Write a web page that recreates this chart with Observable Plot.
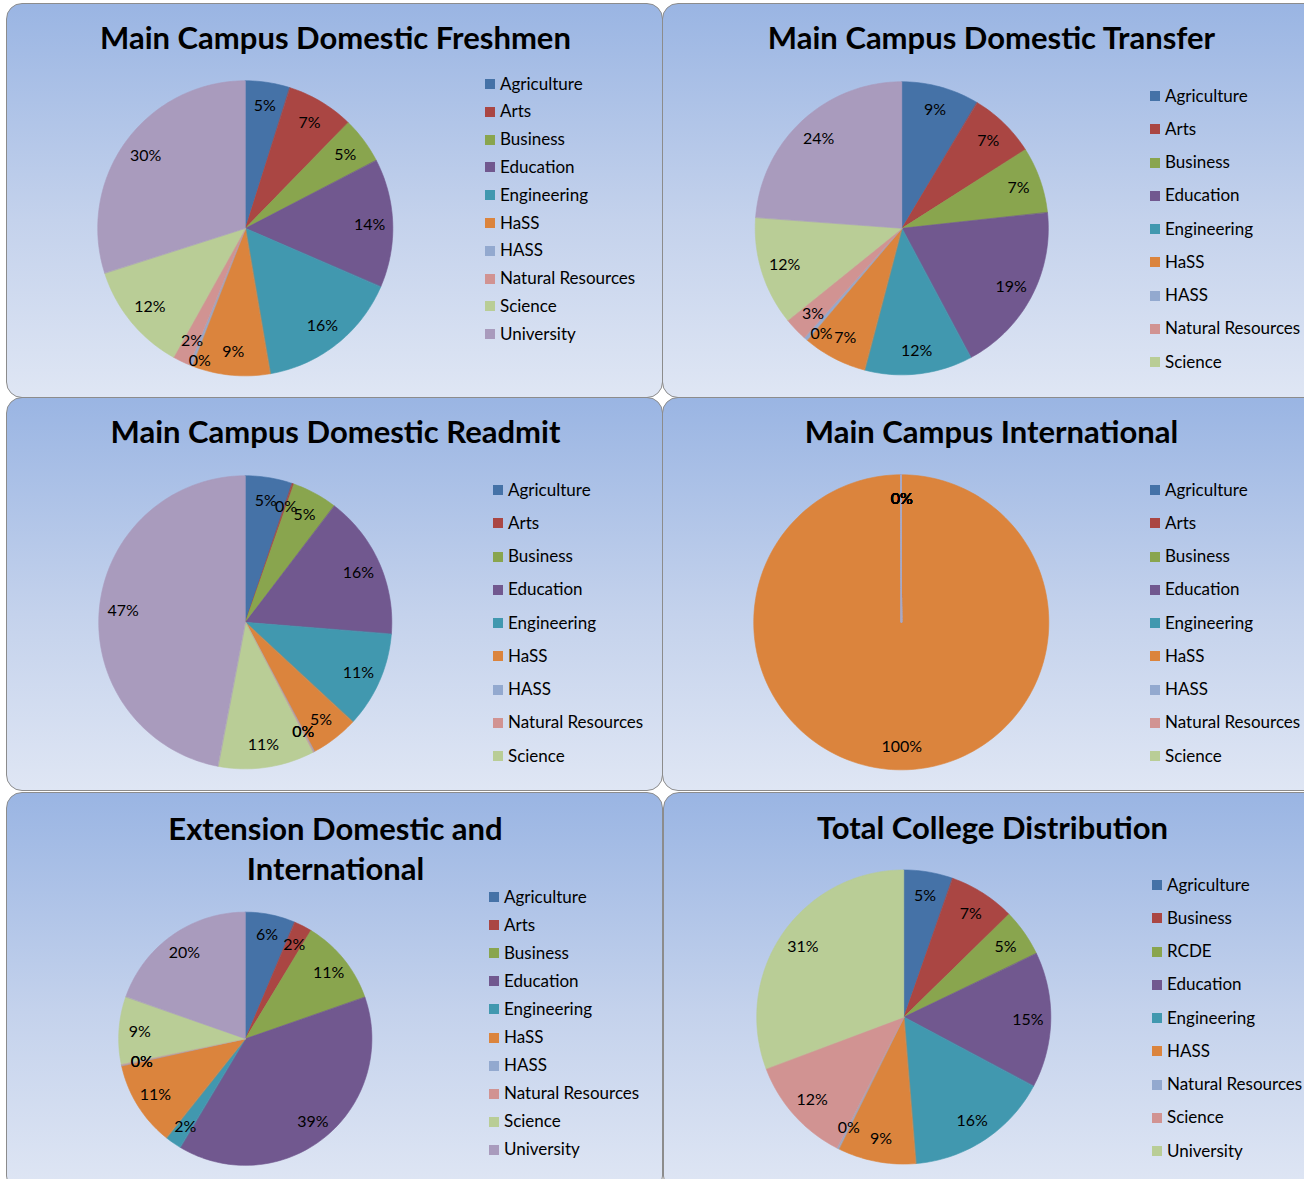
<!DOCTYPE html>
<html>
<head>
<meta charset="utf-8">
<script src="https://cdn.jsdelivr.net/npm/d3@7"></script>
<script src="https://cdn.jsdelivr.net/npm/@observablehq/plot@0.6"></script>
<style>
html, body { margin: 0; padding: 0; background: #ffffff; overflow: hidden; }
#page { position: relative; width: 1304px; height: 1179px; overflow: hidden; font-family: Lato, "Open Sans", sans-serif; }
.panel { position: absolute; box-sizing: border-box; border: 1.5px solid #8c8c8c; border-radius: 16px;
  background: linear-gradient(to bottom, #9ab5e3 0%, #c4d2ec 55%, #dfe6f4 100%); overflow: hidden; }
.panel svg { position: absolute; left: 0; top: 0; }
.title { position: absolute; left: 0; width: 657px; text-align: center; font-weight: bold; font-size: 31px; line-height: 1.2; color: #000; white-space: nowrap; }
.item { position: absolute; white-space: nowrap; font-size: 17px; line-height: 20px; color: #000; }
.sw { position: absolute; width: 10px; height: 10px; }
</style>
</head>
<body>
<div id="page"></div>
<script>
// ---- data ----
const colleges = ["Agriculture", "Arts", "Business", "Education", "Engineering", "HaSS", "HASS", "Natural Resources", "Science", "University"];
const totalCategories = ["Agriculture", "Business", "RCDE", "Education", "Engineering", "HASS", "Natural Resources", "Science", "University"];

const freshmen      = [4.9, 7.4, 5.1, 14.1, 15.8, 8.6, 0.3, 1.9, 12.0, 29.9];
const transfer      = [8.6, 7.4, 7.3, 18.9, 11.9, 7.1, 0.4, 2.6, 12.0, 23.8];
const readmit       = [5.2, 0.2, 5.0, 15.9, 10.6, 5.3, 0.1, 0.1, 10.6, 47.0];
const international = [0, 0, 0, 0, 0, 100, 0, 0, 0, 0];
const extension     = [6.4, 2.3, 11.0, 38.9, 2.1, 10.9, 0.1, 0.1, 8.6, 19.6];
const totalDist     = [5.4, 7.3, 5.2, 14.9, 15.9, 8.6, 0.2, 11.8, 30.7];

const titles = [
  ["Main Campus Domestic Freshmen"],
  ["Main Campus Domestic Transfer"],
  ["Main Campus Domestic Readmit"],
  ["Main Campus International"],
  ["Extension Domestic and", "International"],
  ["Total College Distribution"]
];

const palette = ["#4572A7", "#AA4643", "#89A54E", "#71588F", "#4198AF", "#DB843D", "#93A9CF", "#D19392", "#B9CD96", "#A99BBD"];

// ---- layout (pixels) ----
const panels = [
  {cats: colleges, values: freshmen, legendN: 10, left: 6, top: 3, w: 657, h: 395, cx: 239, cy: 225, r: 148, lx: 478, ly: 80, ls: 27.8, tb: [45.5]},
  {cats: colleges, values: transfer, legendN: 9, left: 662, top: 3, w: 660, h: 395, cx: 239.5, cy: 225, r: 147, lx: 487, ly: 92, ls: 33.25, tb: [46]},
  {cats: colleges, values: readmit, legendN: 9, left: 6, top: 397, w: 657, h: 394, cx: 239, cy: 225, r: 147, lx: 486, ly: 92, ls: 33.25, tb: [46]},
  {cats: colleges, values: international, legendN: 9, left: 662, top: 397, w: 660, h: 394, cx: 239, cy: 225, r: 148, lx: 487, ly: 92, ls: 33.25, tb: [46]},
  {cats: colleges, values: extension, legendN: 10, left: 6, top: 792, w: 657, h: 400, cx: 239, cy: 246.5, r: 127, lx: 482, ly: 104, ls: 28.1, tb: [48, 88]},
  {cats: totalCategories, values: totalDist, legendN: 9, left: 663, top: 792, w: 660, h: 400, cx: 240.5, cy: 224.7, r: 147.5, lx: 488, ly: 92, ls: 33.25, tb: [46.5]}
];

const LABEL_FS = 16;
const LABEL_GAP = 20;
const page = document.getElementById("page");

panels.forEach((p, pi) => {
  const div = document.createElement("div");
  div.className = "panel";
  Object.assign(div.style, {left: p.left + "px", top: p.top + "px", width: p.w + "px", height: p.h + "px"});
  page.appendChild(div);

  const items = p.cats.map((c, i) => ({cat: c, value: p.values[i]}));
  const total = d3.sum(items, d => d.value);
  const arcs = d3.pie().sort(null).value(d => d.value)(items);

  // wedge outlines (arc points + centre) for the area mark
  const wedgePts = [];
  const zeroPts = [];
  arcs.forEach(a => {
    const span = a.endAngle - a.startAngle;
    const n = Math.max(2, Math.ceil(span / (2 * Math.PI) * 240));
    const target = a.data.value === 0 ? zeroPts : wedgePts;
    for (let t = 0; t <= n; t++) {
      const ang = a.startAngle + span * t / n;
      target.push({cat: a.data.cat, x1: Math.sin(ang), y1: Math.cos(ang), x2: 0, y2: 0});
    }
  });

  // percentage labels at mid-angle
  const labels = arcs.map(a => {
    const mid = (a.startAngle + a.endAngle) / 2;
    const text = Math.round(a.data.value / total * 100) + "%";
    return {value: a.data.value, text, px: 0.84 * Math.sin(mid) * p.r, py: -0.84 * Math.cos(mid) * p.r};
  });
  // labels at the same spot stay stacked; a smaller label that partly overlaps
  // a neighbour is pushed below/above it
  const groups = [];
  labels.forEach(l => {
    const g = groups.find(g => Math.hypot(g.px - l.px, g.py - l.py) < 3);
    if (g) { g.members.push(l); g.value = Math.max(g.value, l.value); }
    else groups.push({px: l.px, py: l.py, w: l.text.length * 0.5 * LABEL_FS, value: l.value, members: [l]});
  });
  const placed = [];
  groups.forEach(g => {
    placed.forEach(o => {
      const dx = Math.abs(g.px - o.px), dy = Math.abs(g.py - o.py);
      if (dx < (g.w + o.w) / 2 && dy < LABEL_GAP) {
        const mover = g.value <= o.value ? g : o;
        const fixed = mover === g ? o : g;
        mover.py = mover.py >= fixed.py ? fixed.py + LABEL_GAP : fixed.py - LABEL_GAP;
      }
    });
    placed.push(g);
  });
  groups.forEach(g => g.members.forEach(l => { l.x = g.px / p.r; l.y = -g.py / p.r; }));

  const chart = Plot.plot({
    width: p.w,
    height: p.h,
    margin: 0,
    style: {background: "transparent", fontFamily: "Lato, 'Open Sans', sans-serif", overflow: "visible"},
    x: {domain: [-1, 1], range: [p.cx - p.r, p.cx + p.r], axis: null},
    y: {domain: [-1, 1], range: [p.cy + p.r, p.cy - p.r], axis: null},
    color: {domain: p.cats, range: palette.slice(0, p.cats.length)},
    marks: [
      Plot.area(wedgePts, {x1: "x1", y1: "y1", x2: "x2", y2: "y2", z: "cat", fill: "cat", stroke: "cat", strokeWidth: 0.6}),
      Plot.area(zeroPts, {x1: "x1", y1: "y1", x2: "x2", y2: "y2", z: "cat", fill: "cat", stroke: "#a9a9c4", strokeWidth: 1}),
      Plot.text(labels, {x: "x", y: "y", text: "text", fontSize: LABEL_FS, fill: "#000"})
    ]
  });
  div.appendChild(chart);

  // title
  titles[pi].forEach((line, li) => {
    const t = document.createElement("div");
    t.className = "title";
    t.textContent = line;
    t.style.top = (p.tb[li] - 0.987 * 31) + "px";
    div.appendChild(t);
  });

  // legend
  p.cats.slice(0, p.legendN).forEach((c, i) => {
    const yc = p.ly + i * p.ls;
    const sw = document.createElement("div");
    sw.className = "sw";
    Object.assign(sw.style, {left: p.lx + "px", top: (yc - 5) + "px", background: palette[i]});
    div.appendChild(sw);
    const tx = document.createElement("div");
    tx.className = "item";
    tx.textContent = c;
    Object.assign(tx.style, {left: (p.lx + 15) + "px", top: (yc - 10.5) + "px"});
    div.appendChild(tx);
  });
});
</script>
</body>
</html>
